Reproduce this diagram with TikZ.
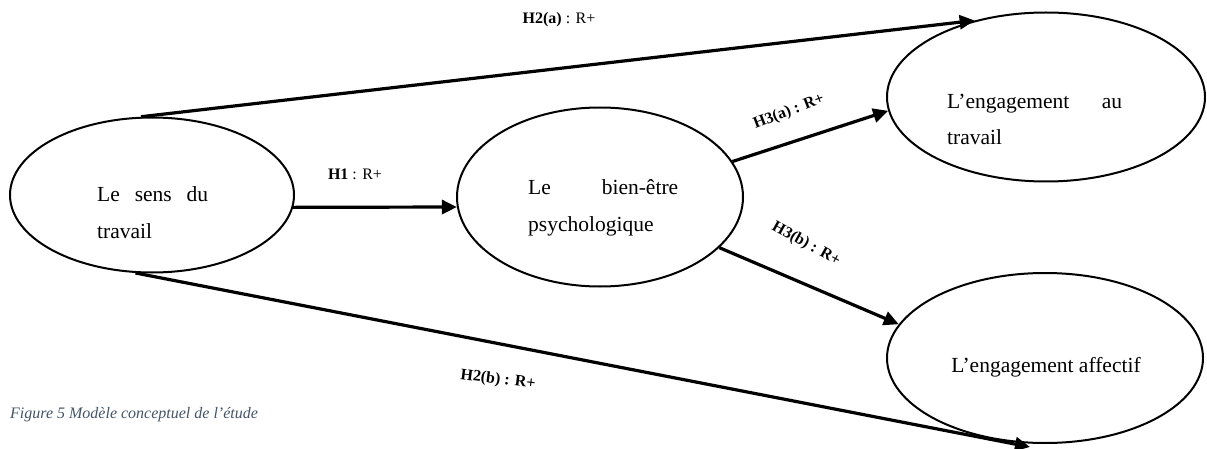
\documentclass[tikz,border=0pt]{standalone}
\usepackage{fontspec}
\setmainfont{Liberation Serif}
\usetikzlibrary{shapes.geometric,arrows.meta}
\definecolor{capcol}{HTML}{44546A}
\begin{document}
\begin{tikzpicture}[x=1pt,y=-1pt,
  oval/.style={draw,ellipse,line width=2pt,inner sep=0pt},
  link/.style={line width=3.2pt,-{Triangle[length=15pt,width=14pt]}},
  lbl/.style={font=\fontsize{16}{18}\selectfont,inner sep=0pt},
  txt/.style={font=\fontsize{21.5}{24}\selectfont,anchor=base west,inner sep=0pt}]
\useasboundingbox (0,0) rectangle (1207,449);
% ellipses
\node[oval,minimum width=284pt,minimum height=155pt] (e1) at (152,195) {};
\node[oval,minimum width=286pt,minimum height=179pt] (e2) at (600,197) {};
\node[oval,minimum width=318pt,minimum height=169pt] (e3) at (1046,97) {};
\node[oval,minimum width=316pt,minimum height=170pt] (e4) at (1045,358) {};
% texts
\node[txt] (t1a) at (97,201) {\makebox[111pt]{Le\hfill sens\hfill du}};
\node[txt] (t1b) at (97,238) {travail};
\node[txt] (t2a) at (528,195) {\makebox[150pt]{Le\hfill bien-être}};
\node[txt] (t2b) at (528,232) {psychologique};
\node[txt] (t3a) at (947,109) {\makebox[175pt]{L’engagement\hfill au}};
\node[txt] (t3b) at (947,145) {travail};
\node[txt,anchor=base] (t4) at (1046,372) {L’engagement affectif};
% connectors
\coordinate (h2bend) at (1030,447);
\draw[link] (e1.98) -- (e3.133);
\draw[link] (e1.-5) -- (e2.184);
\draw[link] (e2.15) -- (e3.185);
\draw[link] (e2.-23) -- (e4.167);
\draw[link] (e1.-102) -- (h2bend);
% labels
\node[lbl] (l2a) at (559,20) {\textbf{H2(a)} : R+};
\node[lbl] (l1) at (355,174) {\textbf{H1} : R+};
\node[lbl,rotate=21] (l3a) at (789,112) {\textbf{H3(a) : R+}};
\node[lbl,rotate=-29] (l3b) at (806,244) {\textbf{H3(b) : R+}};
\node[lbl,rotate=-7] (l2b) at (498,380) {\textbf{H2(b) : R+}};
% caption
\node[font=\fontsize{16}{18}\selectfont\itshape,text=capcol,anchor=base west,inner sep=0pt] (cap) at (10,418) {Figure 5 Modèle conceptuel de l’étude};
\end{tikzpicture}
\end{document}
